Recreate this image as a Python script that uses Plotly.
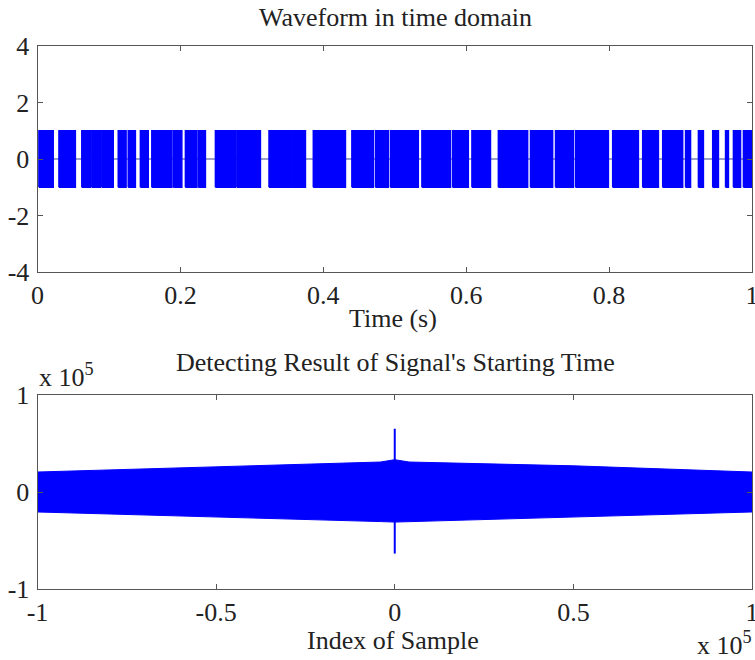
import plotly.graph_objects as go

# ---------------- data ----------------
# Top panel: "on" bursts of the waveform (start, end) in seconds; amplitude +/-1, zero elsewhere
burst_start = [0.002, 0.030, 0.062, 0.076, 0.090, 0.113, 0.127, 0.144, 0.160, 0.190,
               0.207, 0.225, 0.249, 0.279, 0.324, 0.355, 0.386, 0.440, 0.473, 0.494,
               0.538, 0.581, 0.608, 0.645, 0.690, 0.725, 0.753, 0.805, 0.847, 0.875,
               0.907, 0.925, 0.945, 0.963, 0.974, 0.988]
burst_end = [0.022, 0.053, 0.074, 0.088, 0.106, 0.124, 0.137, 0.155, 0.188, 0.202,
             0.223, 0.235, 0.277, 0.312, 0.354, 0.375, 0.431, 0.470, 0.491, 0.533,
             0.578, 0.603, 0.634, 0.686, 0.721, 0.750, 0.799, 0.841, 0.869, 0.903,
             0.914, 0.932, 0.953, 0.967, 0.984, 1.000]
burst_amp = 1.0

# Bottom panel: correlation envelope (index of sample, upper / lower values)
env_x = [-100000, -50000, -4000, 0, 4000, 50000, 100000]
env_upper = [20600, 26000, 30900, 33300, 30900, 27000, 20600]
env_lower = [-20600, -25500, -30500, -31000, -30500, -26000, -20600]
# Peak at the signal's starting time
peak_x = 0
peak_top = 65200
peak_bottom = -63500

top_xticks = [0, 0.2, 0.4, 0.6, 0.8, 1]
top_xticktext = ["0", "0.2", "0.4", "0.6", "0.8", "1"]
top_yticks = [-4, -2, 0, 2, 4]
top_yticktext = ["-4", "-2", "0", "2", "4"]
bot_xticks = [-100000, -50000, 0, 50000, 100000]
bot_xticktext = ["-1", "-0.5", "0", "0.5", "1"]
bot_yticks = [-100000, 0, 100000]
bot_yticktext = ["-1", "0", "1"]

# ---------------- figure ----------------
BLUE = "#0000FF"
FONT = "'Liberation Serif', 'Times New Roman', Times, serif"
FS = 26
TXT = "#222222"
AX = "#555555"

fig = go.Figure()

# zero line of the waveform
fig.add_trace(go.Scatter(x=[0, 1], y=[0, 0], mode="lines",
                         line=dict(color="#3a4699", width=1.2),
                         xaxis="x", yaxis="y", showlegend=False, hoverinfo="skip"))

bx, by = [], []
for s, e in zip(burst_start, burst_end):
    bx += [s, s, e, e, s, None]
    by += [-burst_amp, burst_amp, burst_amp, -burst_amp, -burst_amp, None]
fig.add_trace(go.Scatter(x=bx, y=by, mode="lines", fill="toself",
                         fillcolor=BLUE, line=dict(color=BLUE, width=1.5),
                         xaxis="x", yaxis="y", showlegend=False, hoverinfo="skip"))

# correlation band
poly_x = env_x + env_x[::-1] + [env_x[0]]
poly_y = env_upper + env_lower[::-1] + [env_upper[0]]
fig.add_trace(go.Scatter(x=poly_x, y=poly_y, mode="lines", fill="toself",
                         fillcolor=BLUE, line=dict(color=BLUE, width=1),
                         xaxis="x2", yaxis="y2", showlegend=False, hoverinfo="skip"))
fig.add_trace(go.Scatter(x=[peak_x, peak_x], y=[peak_bottom, peak_top], mode="lines",
                         line=dict(color=BLUE, width=2),
                         xaxis="x2", yaxis="y2", showlegend=False, hoverinfo="skip"))

W, H = 755, 660
def xd(a, b):
    return [a / W, b / W]
def yd(top, bot):
    return [1 - bot / H, 1 - top / H]

axis_common = dict(showgrid=False, zeroline=False, showline=True, linecolor=AX,
                   linewidth=1, mirror="ticks", ticks="inside", ticklen=5,
                   tickcolor=AX, ticklabeloverflow="allow", automargin=False,
                   tickfont=dict(family=FONT, size=FS, color=TXT))

def label(text, x, y, xanchor="center"):
    return dict(text=text, x=x / W, y=1 - y / H, xref="paper", yref="paper",
                showarrow=False, xanchor=xanchor, yanchor="middle",
                font=dict(family=FONT, size=FS, color=TXT))

fig.update_layout(
    width=W, height=H,
    margin=dict(l=0, r=0, t=0, b=0, pad=0),
    paper_bgcolor="white", plot_bgcolor="white",
    font=dict(family=FONT, size=FS, color=TXT),
    xaxis=dict(domain=xd(37.5, 752), range=[0, 1], anchor="y",
               tickvals=top_xticks, ticktext=top_xticktext,
               ticklabelstandoff=0, **axis_common),
    yaxis=dict(domain=yd(46, 272), range=[-4, 4], anchor="x",
               tickvals=top_yticks, ticktext=top_yticktext,
               ticklabelstandoff=2, **axis_common),
    xaxis2=dict(domain=xd(37.5, 752), range=[-100000, 100000], anchor="y2",
                tickvals=bot_xticks, ticktext=bot_xticktext,
                ticklabelstandoff=0, **axis_common),
    yaxis2=dict(domain=yd(395, 589), range=[-100000, 100000], anchor="x2",
                tickvals=bot_yticks, ticktext=bot_yticktext, ticklabelstandoff=2, **axis_common),
    annotations=[
        label("Waveform in time domain", 395, 18),
        label("Time (s)", 393, 318),
        label("Detecting Result of Signal's Starting Time", 395, 362),
        label("Index of Sample", 393, 640),
        label("x 10<sup>5</sup>", 37, 375, "left"),
        label("x 10<sup>5</sup>", 754, 643, "right"),
    ],
)

fig.write_html("out.html")
